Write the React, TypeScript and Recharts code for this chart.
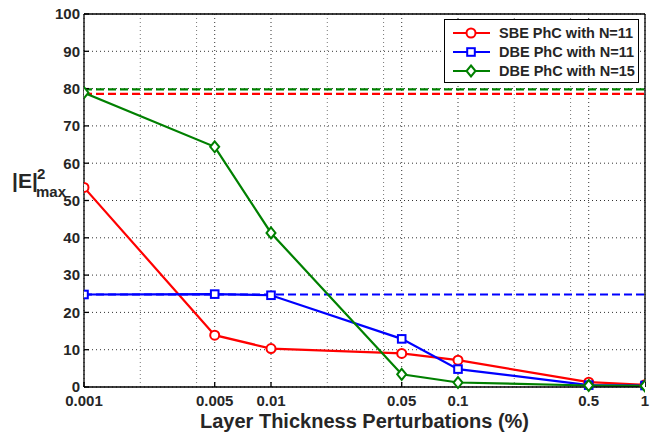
import { LineChart, Line, XAxis, YAxis, CartesianGrid, ReferenceLine } from "recharts";

const X_VALUES = [0.001, 0.005, 0.01, 0.05, 0.1, 0.5, 1];
const SBE_N11 = [53.5, 13.9, 10.3, 9.0, 7.2, 1.3, 0.6];
const DBE_N11 = [24.8, 24.9, 24.6, 12.9, 4.8, 0.5, 0.4];
const DBE_N15 = [78.9, 64.4, 41.3, 3.4, 1.2, 0.4, 0.3];

// dashed limits (bulk / ideal values)
const SBE_N11_LIMIT = 78.6;
const DBE_N11_LIMIT = 24.8;
const DBE_N15_LIMIT = 79.8;

const X_TICKS = [0.001, 0.005, 0.01, 0.05, 0.1, 0.5, 1];
const X_MINOR = [0.002, 0.003, 0.004, 0.02, 0.03, 0.04, 0.2, 0.3, 0.4];
const Y_TICKS = [0, 10, 20, 30, 40, 50, 60, 70, 80, 90, 100];

const SERIES = [
  { key: "sbe11", name: "SBE PhC with N=11", color: "#ff0000", marker: "circle" },
  { key: "dbe11", name: "DBE PhC with N=11", color: "#0000ff", marker: "square" },
  { key: "dbe15", name: "DBE PhC with N=15", color: "#008000", marker: "diamond" },
];

const data = X_VALUES.map((x, i) => ({
  x,
  sbe11: SBE_N11[i],
  dbe11: DBE_N11[i],
  dbe15: DBE_N15[i],
}));

const FONT = "'Liberation Sans', Arial, Helvetica, sans-serif";
const TEXT = "#262626";

function Marker({ type, cx, cy, color }: { type: string; cx: number; cy: number; color: string }) {
  if (cx == null || cy == null) return null;
  if (type === "circle") {
    return <circle cx={cx} cy={cy} r={4.5} fill="#fff" stroke={color} strokeWidth={2} />;
  }
  if (type === "square") {
    return <rect x={cx - 3.8} y={cy - 3.8} width={7.6} height={7.6} fill="#fff" stroke={color} strokeWidth={2} />;
  }
  return (
    <path
      d={`M${cx},${cy - 5.5} L${cx + 4.5},${cy} L${cx},${cy + 5.5} L${cx - 4.5},${cy} Z`}
      fill="#fff"
      stroke={color}
      strokeWidth={2}
    />
  );
}

function LegendBox() {
  return (
    <div
      style={{
        position: "absolute",
        left: 444,
        top: 19,
        boxSizing: "border-box",
        border: "1.3px solid #000",
        background: "#fff",
        width: 195,
        padding: "3px 0 2px 0",
        fontFamily: FONT,
        fontWeight: 700,
        fontSize: 14.5,
        color: TEXT,
      }}
    >
      {SERIES.map((s) => (
        <div key={s.key} style={{ display: "flex", alignItems: "center", height: 19 }}>
          <svg width={48} height={14} style={{ marginLeft: 6 }}>
            <line x1={2} y1={7} x2={39} y2={7} stroke={s.color} strokeWidth={2} />
            <Marker type={s.marker} cx={20} cy={7} color={s.color} />
          </svg>
          <span>{s.name}</span>
        </div>
      ))}
    </div>
  );
}

function YLabel() {
  return (
    <text fontFamily={FONT} fontWeight={700} fill={TEXT}>
      <tspan x={12} y={188} fontSize={21}>|E|</tspan>
      <tspan x={37} y={179} fontSize={15}>2</tspan>
      <tspan x={36} y={197} fontSize={15}>max</tspan>
    </text>
  );
}

const tickStyle = { fontFamily: FONT, fontWeight: 700, fontSize: 15, fill: TEXT };

export default function App() {
  return (
    <div style={{ position: "absolute", left: 0, top: 0, width: 661, height: 433, background: "#fff" }}>
      <LineChart width={661} height={433} data={data} margin={{ top: 14, right: 16, bottom: 0, left: 0 }}>
        <CartesianGrid
          vertical
          horizontal={false}
          verticalValues={X_MINOR}
          stroke="#777"
          strokeDasharray="1 3"
        />
        <CartesianGrid
          vertical
          horizontal
          verticalValues={X_TICKS}
          horizontalValues={Y_TICKS}
          stroke="#333"
          strokeDasharray="1 3"
        />
        <XAxis
          dataKey="x"
          type="number"
          scale="log"
          domain={[0.001, 1]}
          ticks={X_TICKS}
          allowDataOverflow
          height={46}
          stroke="#000"
          strokeWidth={1.3}
          tickSize={-5}
          tickMargin={13}
          tick={tickStyle}
          tickFormatter={(v: number) => String(v)}
          label={{
            value: "Layer Thickness Perturbations (%)",
            position: "insideBottom",
            offset: 5,
            style: { fontFamily: FONT, fontWeight: 700, fontSize: 20, fill: TEXT },
          }}
        />
        <YAxis
          type="number"
          domain={[0, 100]}
          ticks={Y_TICKS}
          width={84}
          stroke="#000"
          strokeWidth={1.3}
          tickSize={-5}
          tickMargin={9}
          tick={tickStyle}
          label={<YLabel />}
        />
        <ReferenceLine y={DBE_N15_LIMIT} stroke="#008000" strokeWidth={2.2} strokeDasharray="8 4" />
        <ReferenceLine y={SBE_N11_LIMIT} stroke="#ff0000" strokeWidth={2.2} strokeDasharray="8 4" />
        <ReferenceLine y={DBE_N11_LIMIT} stroke="#0000ff" strokeWidth={2.2} strokeDasharray="8 4" />
        <ReferenceLine y={100} stroke="#000" strokeWidth={1.3} />
        <ReferenceLine x={1} stroke="#000" strokeWidth={1.3} />
        {SERIES.map((s) => (
          <Line
            key={s.key}
            dataKey={s.key}
            name={s.name}
            type="linear"
            stroke={s.color}
            strokeWidth={2.2}
            isAnimationActive={false}
            dot={(p: any) => <Marker key={`${s.key}-${p.index}`} type={s.marker} cx={p.cx} cy={p.cy} color={s.color} />}
            activeDot={false}
          />
        ))}
      </LineChart>
      <LegendBox />
    </div>
  );
}
